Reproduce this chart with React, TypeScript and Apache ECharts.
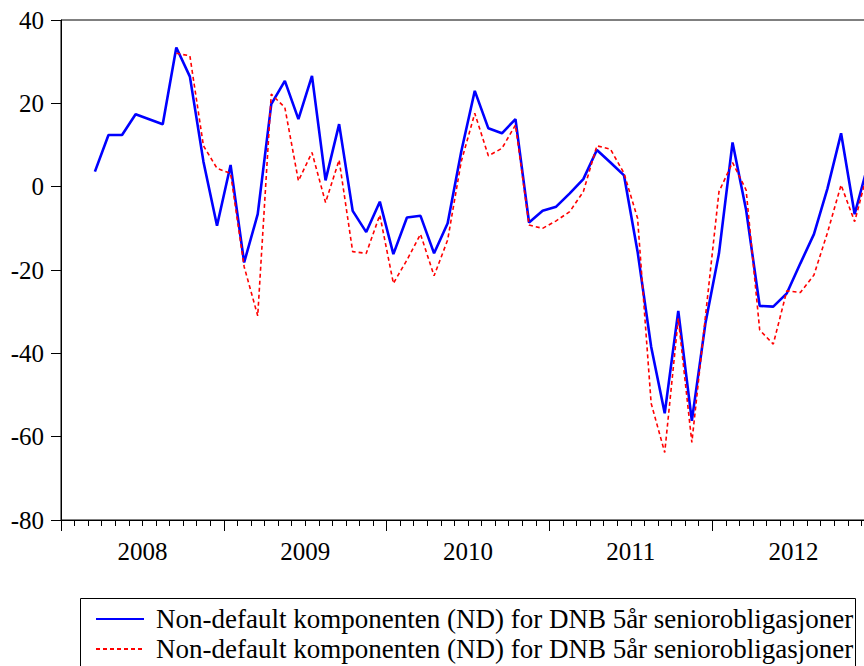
import React, { useEffect, useRef } from "react";
import * as echarts from "echarts";

// Monthly observations (first month of each series given)
const blueStart = "2008-03";
const redStart = "2008-09";

const blueValues = [
  3.6, 12.4, 12.4, 17.4, 16.2, 15.0, 33.4, 26.4, 6.0, -9.4,
  5.2, -18.2, -6.6, 19.8, 25.4, 16.2, 26.6, 1.5, 15.0, -5.8,
  -10.9, -3.6, -16.2, -7.4, -7.0, -16.0, -8.8, 8.4, 23.0, 14.0,
  12.8, 16.2, -8.6, -5.8, -4.8, -1.6, 1.8, 8.8, 5.8, 2.7,
  -15.6, -38.4, -54.4, -29.8, -56.2, -32.8, -16.0, 10.6, -5.6, -28.6,
  -28.8, -25.6, -18.4, -11.4, -0.4, 12.8, -6.6, 5.5,
];

const redValues = [
  32.0, 31.4, 9.8, 4.4, 3.2, -19.2, -31.0, 22.2, 19.0, 1.4,
  8.2, -3.8, 6.4, -15.6, -16.0, -6.8, -23.2, -17.6, -11.4, -21.4,
  -12.8, 6.0, 17.6, 7.4, 9.2, 14.8, -9.2, -10.0, -8.2, -6.0,
  -1.2, 9.8, 9.0, 3.2, -7.6, -52.0, -63.8, -31.6, -61.4, -31.2,
  -1.2, 5.8, -0.8, -34.4, -37.8, -25.0, -25.4, -21.2, -11.0, 0.4,
  -8.4, 4.0,
];

const years = ["2008", "2009", "2010", "2011", "2012"];
const yTicks = [-80, -60, -40, -20, 0, 20, 40];
const seriesName = "Non-default komponenten (ND) for DNB 5år seniorobligasjoner";

const baseYear = Number(years[0]);
// month position on the axis: months since Jan of the first year, centred in the month
function monthPos(start: string, offset: number): number {
  const [y, m] = start.split("-").map(Number);
  return (y - baseYear) * 12 + (m - 1) + offset + 0.5;
}
function toPoints(start: string, vals: number[]) {
  return vals.map((v, i) => [monthPos(start, i), v]);
}

const FONT = "'Liberation Serif', 'Times New Roman', serif";

export default function App() {
  const ref = useRef<HTMLDivElement>(null);
  useEffect(() => {
    if (!ref.current) return;
    const chart = echarts.init(ref.current, undefined, { renderer: "svg" });
    const nMonths = years.length * 12;
    chart.setOption({
      animation: false,
      backgroundColor: "#ffffff",
      textStyle: { fontFamily: FONT, color: "#000", fontWeight: "normal" },
      grid: {
        left: 61,
        top: 20,
        width: 814,
        height: 500,
        show: true,
        borderColor: "#000",
        borderWidth: 1,
        backgroundColor: "transparent",
      },
      xAxis: {
        type: "value",
        min: 0,
        max: nMonths,
        interval: 12,
        position: "bottom",
        axisLine: { onZero: false, lineStyle: { color: "#000", width: 1 } },
        axisTick: { show: true, length: 11, lineStyle: { color: "#000", width: 1 } },
        minorTick: { show: true, splitNumber: 12, length: 6, lineStyle: { color: "#000", width: 1 } },
        splitLine: { show: false },
        minorSplitLine: { show: false },
        axisLabel: {
          customValues: years.map((_, i) => i * 12 + 6),
          formatter: (v: number) => String(baseYear + Math.floor(v / 12)),
          fontFamily: FONT,
          fontWeight: "normal",
          fontSize: 25,
          color: "#000",
          margin: 19,
        },
      },
      yAxis: {
        type: "value",
        min: yTicks[0],
        max: yTicks[yTicks.length - 1],
        interval: 20,
        axisLine: { show: true, onZero: false, lineStyle: { color: "#000", width: 1 } },
        axisTick: { show: true, length: 10, lineStyle: { color: "#000", width: 1 } },
        splitLine: { show: false },
        axisLabel: {
          customValues: yTicks,
          fontFamily: FONT,
          fontWeight: "normal",
          fontSize: 25,
          color: "#000",
          margin: 17,
          formatter: (v: number) => "{s|" + String(v) + "}",
          rich: {
            s: { fontFamily: FONT, fontSize: 25, fontWeight: "normal", color: "#000" },
          },
        },
      },
      legend: {
        show: true,
        orient: "vertical",
        left: 95,
        top: 604,
        padding: 0,
        itemGap: 0,
        itemWidth: 48,
        itemHeight: 14,
        selectedMode: false,
        itemStyle: { color: "rgba(0,0,0,0)", borderColor: "rgba(0,0,0,0)", borderWidth: 0 },
        textStyle: {
          fontFamily: FONT,
          fontSize: 27,
          lineHeight: 30,
          color: "#000",
          padding: [0, 0, 0, 7],
        },
        data: [
          { name: seriesName },
          { name: seriesName + " " },
        ],
        formatter: (n: string) => n.trim(),
      },
      graphic: [
        {
          type: "rect",
          shape: { x: 80.5, y: 598.5, width: 775, height: 120 },
          style: { fill: "none", stroke: "#000", lineWidth: 1 },
          silent: true,
        },
      ],
      series: [
        {
          name: seriesName,
          type: "line",
          data: toPoints(blueStart, blueValues),
          symbol: "none",
          lineStyle: { color: "#0000ff", width: 2.6 },
          itemStyle: { color: "#0000ff" },
        },
        {
          name: seriesName + " ",
          type: "line",
          data: toPoints(redStart, redValues),
          symbol: "none",
          lineStyle: { color: "#ff0000", width: 1.6, type: [4, 3] },
          itemStyle: { color: "#ff0000" },
        },
      ],
    });
    return () => chart.dispose();
  }, []);
  return (
    <div
      ref={ref}
      style={{ position: "fixed", left: 0, top: 0, width: 880, height: 666, background: "#fff" }}
    />
  );
}
